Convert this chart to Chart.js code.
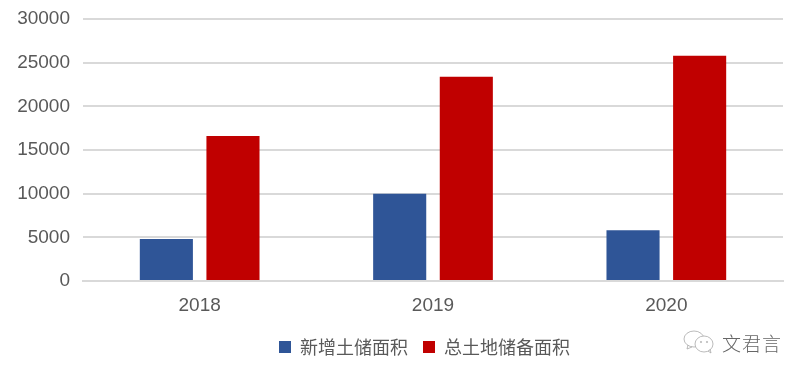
<!DOCTYPE html>
<html><head><meta charset="utf-8">
<style>
html,body{margin:0;padding:0;background:#fff;width:806px;height:378px;overflow:hidden}
#w{position:relative;width:806px;height:378px}
#wm{position:absolute;left:683px;top:328px;width:120px;height:28px;display:flex;align-items:center}
#wm span{font:300 19px "Noto Sans CJK SC";color:#666;margin-left:7px;letter-spacing:1px}
</style></head><body>
<div id="w"><canvas id="c" width="806" height="378"></canvas>
<div id="wm"><svg width="32" height="24" viewBox="0 0 32 24" fill="none" stroke="#aaa" stroke-width="0.8"><ellipse cx="11" cy="9" rx="10" ry="8"/><path d="M5 15l-1 4 5-2"/><ellipse cx="21" cy="14" rx="9" ry="8" fill="#fff"/><path d="M25 21l3 2-1-4"/><circle cx="18" cy="12" r=".7"/><circle cx="24" cy="12" r=".7"/></svg><span>文君言</span></div></div>
<script src="https://cdn.jsdelivr.net/npm/chart.js@4/dist/chart.umd.min.js"></script>
<script>
const categories=['2018','2019','2020'];
const newLand=[4800,10000,5800];
const totalLand=[16600,23400,25800];
const seriesNames=['新增土储面积','总土地储备面积'];
const seriesColors=['#2F5597','#C00000'];
const yTicks=[0,5000,10000,15000,20000,25000,30000];
const tickFont={family:'"Liberation Sans"',size:19};
new Chart(document.getElementById('c'),{
  type:'bar',
  data:{labels:categories,datasets:[
    {label:seriesNames[0],data:newLand,backgroundColor:seriesColors[0]},
    {label:seriesNames[1],data:totalLand,backgroundColor:seriesColors[1]}]},
  options:{
    responsive:false,animation:false,
    categoryPercentage:0.571,barPercentage:0.797,
    layout:{padding:{left:0,right:23,top:19,bottom:0},autoPadding:false},
    scales:{
      x:{grid:{display:false},border:{color:'#d9d9d9',width:2},
        ticks:{color:'#595959',font:tickFont,padding:5,maxRotation:0},
        afterFit(s){s.height=54}},
      y:{min:0,max:30000,
        afterBuildTicks(s){s.ticks=yTicks.map(v=>({value:v}))},
        grid:{color:'#d9d9d9',lineWidth:2,drawTicks:false},border:{display:false},
        ticks:{color:'#595959',font:tickFont,padding:13,callback:v=>String(v)},
        afterFit(s){s.width=83;s.paddingTop=0;s.paddingBottom=0}}
    },
    plugins:{
      tooltip:{enabled:false},
      legend:{position:'bottom',
        labels:{boxWidth:12,boxHeight:12,padding:15,color:'#595959',
          font:{family:'"Noto Sans CJK SC"',size:18}}}
    }
  },
  plugins:[{id:'legendPos',afterLayout(ch){const l=ch.legend;const w=l.right-l.left;l.left=33;l.right=33+w;l.top-=12;l.bottom-=12;}}]
});
</script></body></html>
